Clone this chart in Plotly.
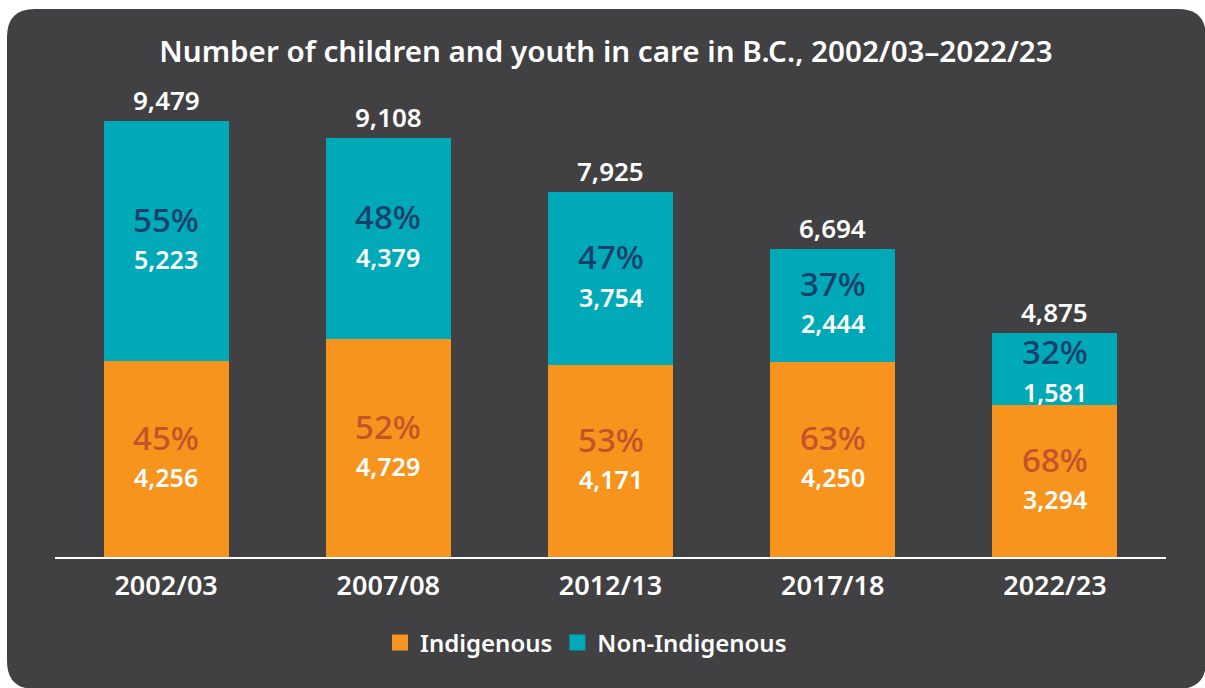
import plotly.graph_objects as go

# Children and youth in care in B.C., by fiscal year
years = ["2002/03", "2007/08", "2012/13", "2017/18", "2022/23"]
indigenous = [4256, 4729, 4171, 4250, 3294]
non_indigenous = [5223, 4379, 3754, 2444, 1581]
indigenous_pct = ["45%", "52%", "53%", "63%", "68%"]
non_indigenous_pct = ["55%", "48%", "47%", "37%", "32%"]
totals = [9479, 9108, 7925, 6694, 4875]

ORANGE = "#F7941D"
TEAL = "#00A9B7"
BG = "#414042"
PCT_BLUE = "#163F6C"
PCT_RUST = "#C4532A"
FONT = "Noto Sans"

W, H = 1205, 688
L, R, T, B = 55, 39, 97, 131
Y_MAX = 10000
plot_w = W - L - R
plot_h = H - T - B
px_per_unit = plot_h / Y_MAX


def px_x(px):
    return (px - L) / plot_w


def px_y(py):
    return (H - B - py) / plot_h


fig = go.Figure()
fig.add_trace(go.Bar(x=years, y=indigenous, marker=dict(color=ORANGE, line=dict(width=0)),
                     name="Indigenous", showlegend=False, hoverinfo="skip"))
fig.add_trace(go.Bar(x=years, y=non_indigenous, marker=dict(color=TEAL, line=dict(width=0)),
                     name="Non-Indigenous", showlegend=False, hoverinfo="skip"))

# legend entries with larger square swatches
for nm, col in [("Indigenous", ORANGE), ("Non-Indigenous", TEAL)]:
    fig.add_trace(go.Scatter(x=[None], y=[None], mode="markers", name=nm,
                             marker=dict(symbol="square", size=20, color=col)))

PAIR_GAP = 40  # vertical distance between percent and count labels
ann = []
for i, yr in enumerate(years):
    ind, non = indigenous[i], non_indigenous[i]
    # total above bar
    ann.append(dict(x=yr, y=totals[i], text=f"{totals[i]:,}", showarrow=False,
                    yanchor="middle", yshift=21,
                    font=dict(family=FONT, size=26, color="white", weight=600)))
    # share (percent) over count, centred in each segment
    for base, val, pct, pcol, is_top in [(0, ind, indigenous_pct[i], PCT_RUST, False),
                                         (ind, non, non_indigenous_pct[i], PCT_BLUE, True)]:
        mid = base + val / 2
        pct_shift = 22
        if is_top:
            # keep the percent clear of the total label in short top segments
            pct_shift = min(pct_shift, val * px_per_unit / 2 - 19)
        ann.append(dict(x=yr, y=mid, text=pct, showarrow=False, yanchor="middle",
                        yshift=pct_shift,
                        font=dict(family=FONT, size=33, color=pcol, weight=500)))
        ann.append(dict(x=yr, y=mid, text=f"{val:,}", showarrow=False, yanchor="middle",
                        yshift=pct_shift - PAIR_GAP,
                        font=dict(family=FONT, size=25, color="white", weight=600)))

# rounded dark panel behind the chart
x0, x1, y0, y1, r = 7, 1206, 9, 689, 28
pts = [
    ("M", (x0 + r, y0)), ("L", (x1 - r, y0)), ("Q", (x1, y0), (x1, y0 + r)),
    ("L", (x1, y1 - r)), ("Q", (x1, y1), (x1 - r, y1)), ("L", (x0 + r, y1)),
    ("Q", (x0, y1), (x0, y1 - r)), ("L", (x0, y0 + r)), ("Q", (x0, y0), (x0 + r, y0)),
]
path = ""
for cmd, *coords in pts:
    path += cmd + " ".join(f"{px_x(a):.5f},{px_y(b):.5f}" for a, b in coords) + " "
path += "Z"

fig.update_layout(
    width=W, height=H,
    margin=dict(l=L, r=R, t=T, b=B, autoexpand=False),
    paper_bgcolor="white",
    plot_bgcolor="rgba(0,0,0,0)",
    barmode="stack",
    bargap=0.4375,
    title=dict(text="Number of children and youth in care in B.C., 2002/03–2022/23",
               x=606 / W, xanchor="center", y=1 - 52 / H, yanchor="middle",
               font=dict(family=FONT, size=29.6, color="white", weight=600)),
    xaxis=dict(type="category", showline=True, linecolor="white", linewidth=2,
               showgrid=False, zeroline=False, ticks="", ticklabelstandoff=4,
               tickfont=dict(family=FONT, size=27, color="white", weight=600)),
    yaxis=dict(range=[0, Y_MAX], visible=False, showgrid=False, zeroline=False),
    legend=dict(orientation="h", traceorder="normal", x=px_x(586), xanchor="center",
                y=px_y(643), yanchor="middle",
                font=dict(family=FONT, size=24, color="white", weight=600),
                bgcolor="rgba(0,0,0,0)", itemclick=False, itemdoubleclick=False),
    shapes=[dict(type="path", path=path, xref="paper", yref="paper",
                 fillcolor=BG, line=dict(width=0), layer="below")],
    annotations=ann,
)

fig.write_html("out.html")
